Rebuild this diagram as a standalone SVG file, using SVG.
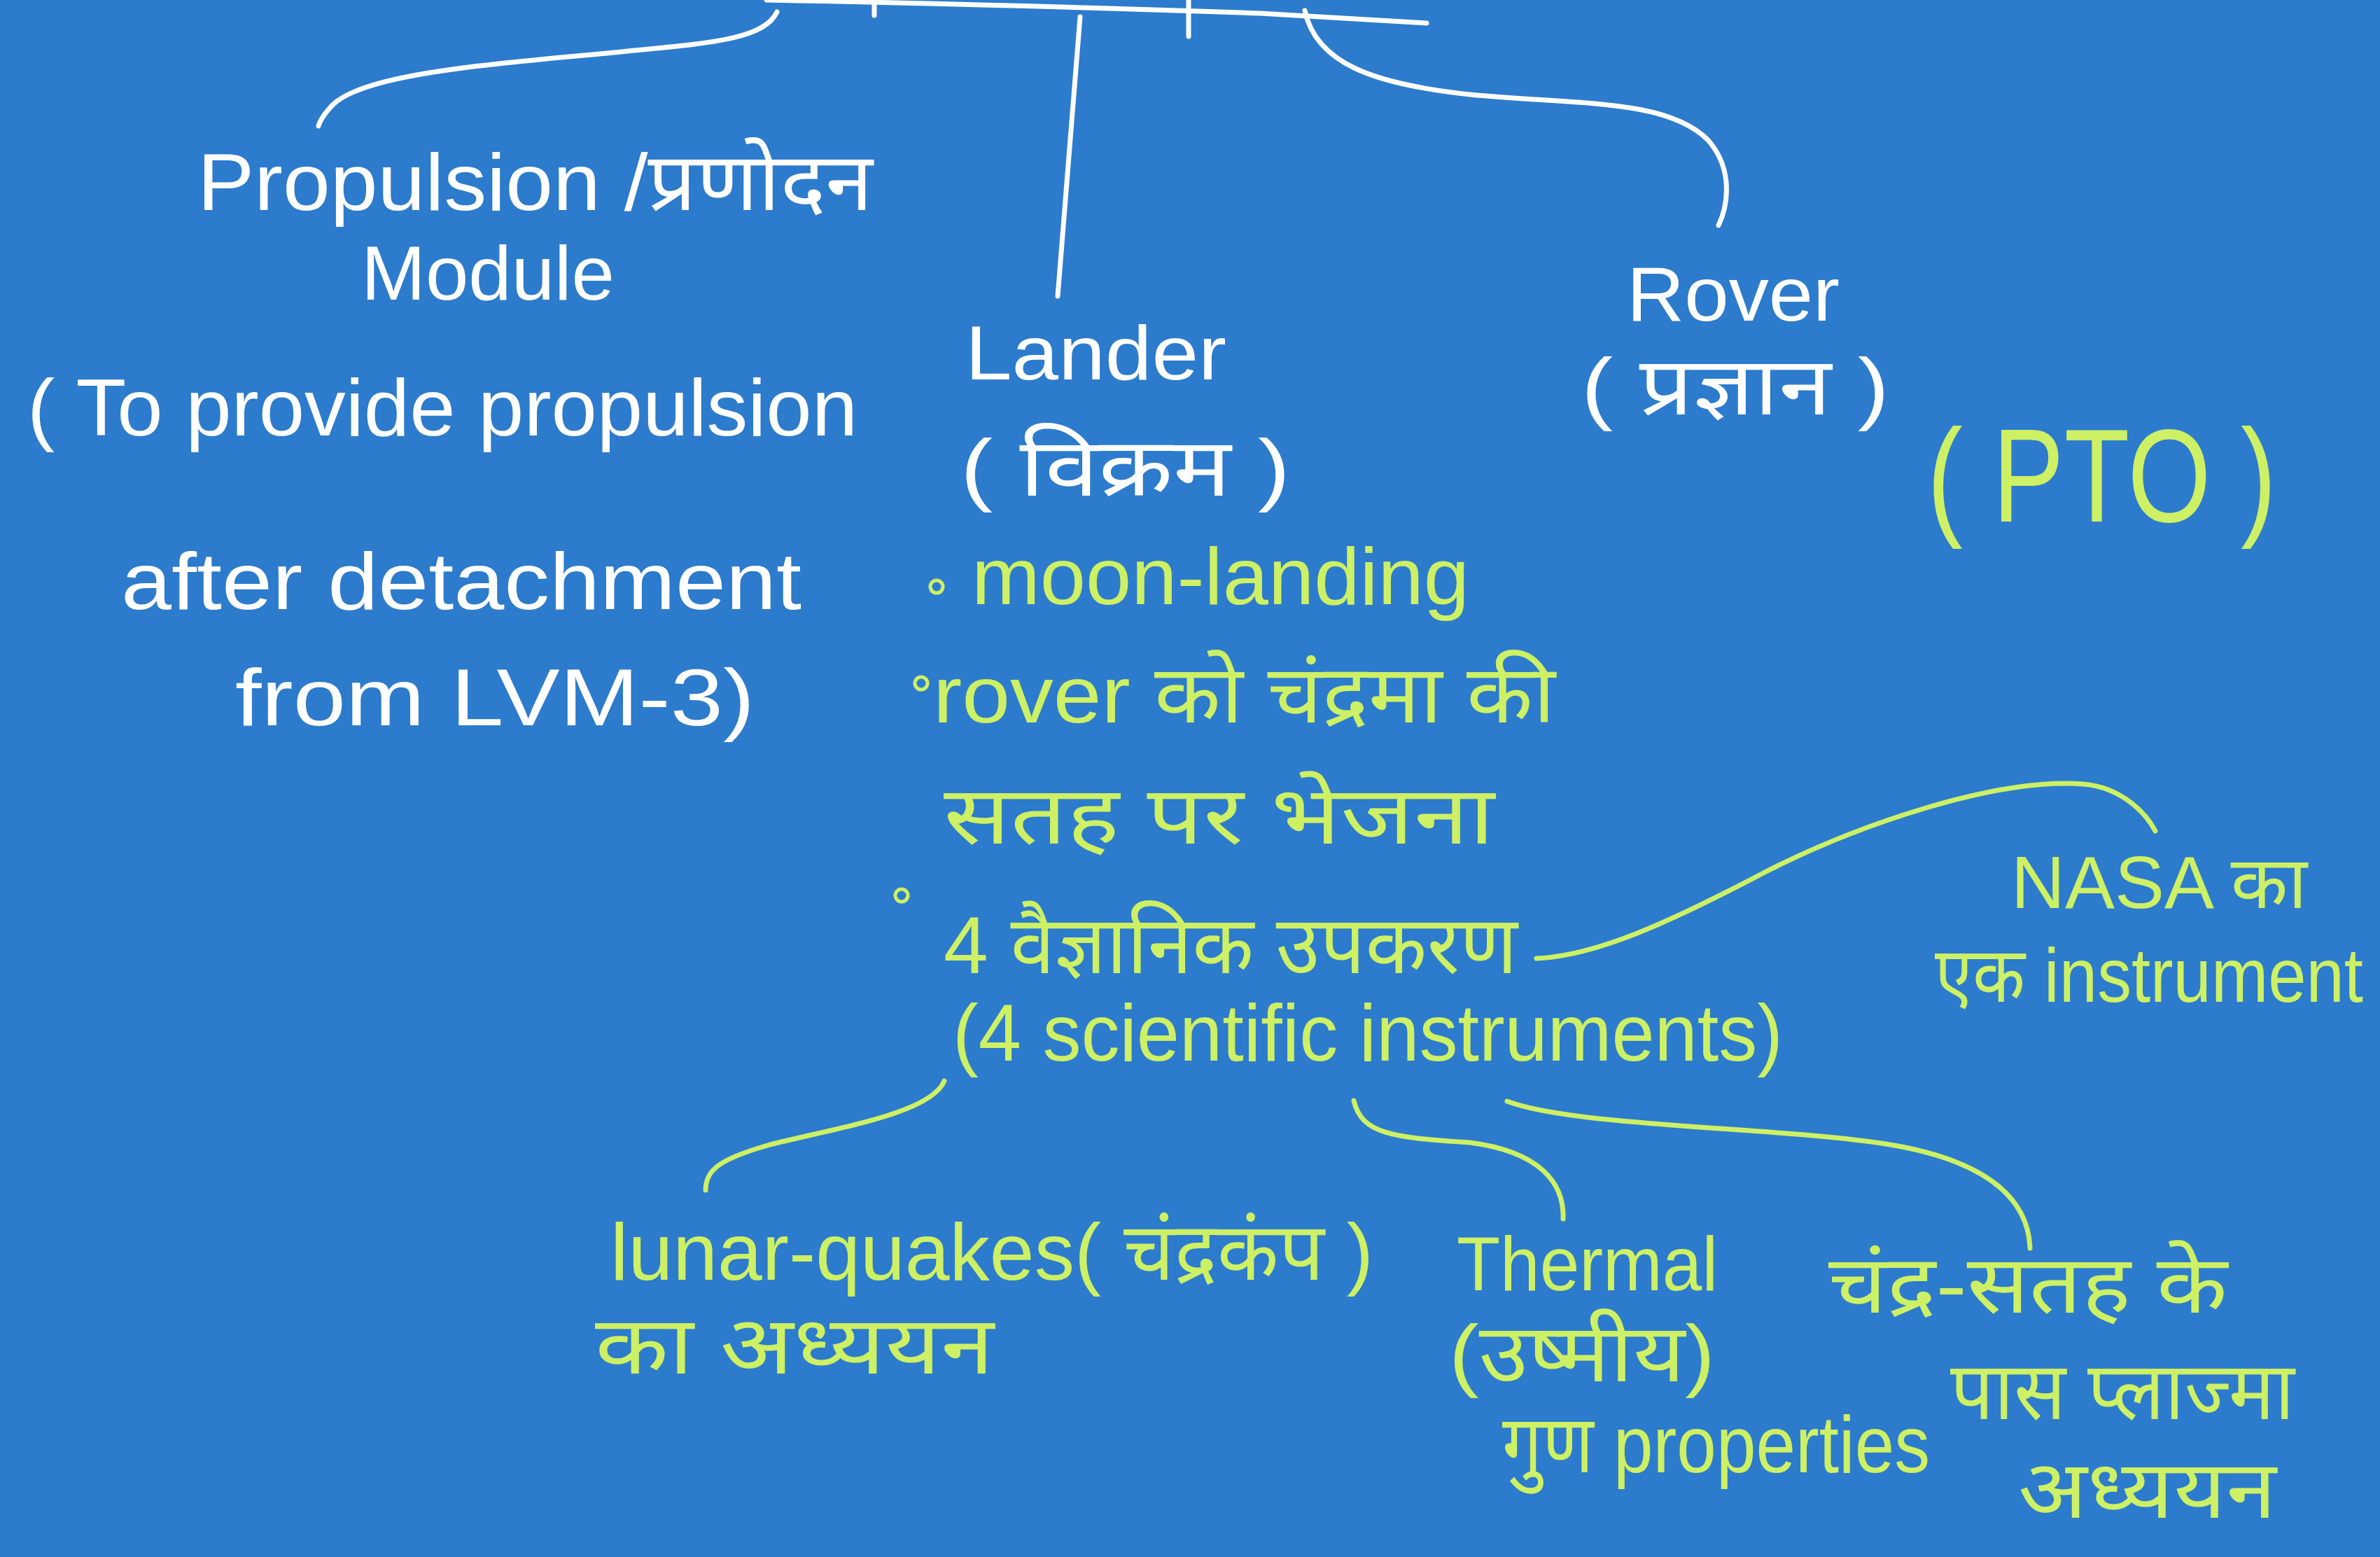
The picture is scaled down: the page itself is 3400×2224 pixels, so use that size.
<svg xmlns="http://www.w3.org/2000/svg" width="3400" height="2224" viewBox="0 0 3400 2224">
  <style>
    .w { fill: #ffffff; font-family: "Liberation Sans", "Noto Sans", "Noto Sans Devanagari", "Lohit Devanagari", "FreeSans", sans-serif; }
    .g { fill: #cdf065; font-family: "Liberation Sans", "Noto Sans", "Noto Sans Devanagari", "Lohit Devanagari", "FreeSans", sans-serif; }
    .lw { fill: none; stroke: #ffffff; stroke-width: 7; stroke-linecap: round; stroke-linejoin: round; }
    .lg { fill: none; stroke: #cdf065; stroke-width: 7; stroke-linecap: round; stroke-linejoin: round; }
    .dot { fill: none; stroke: #cdf065; stroke-width: 5; }
  </style>
  <rect x="0" y="0" width="3400" height="2224" fill="#2c7bcc"/>

  <g id="connectors">
    <path class="lw" d="M1095,0 Q1500,8 1800,19 L2038,33" stroke-width="9"/>
    <path class="lw" d="M1249,0 L1249,22"/>
    <path class="lw" d="M1698,0 L1698,52"/>
    <path class="lw" d="M1110,17 C1090,60 1000,62 867,76 C700,92 520,105 475,150 C462,164 457,172 455,180"/>
    <path class="lw" d="M1543,24 L1511,423"/>
    <path class="lw" d="M1864,15 C1880,90 1960,120 2100,135 C2250,150 2380,140 2440,200 C2475,240 2470,290 2455,322"/>
    <path class="lg" d="M2195,1369 C2280,1365 2380,1320 2521,1246 C2650,1180 2850,1110 2977,1120 C3030,1125 3065,1160 3079,1187"/>
    <path class="lg" d="M1349,1544 C1330,1590 1200,1610 1100,1635 C1030,1655 1008,1670 1008,1700"/>
    <path class="lg" d="M1934,1572 C1945,1620 1990,1625 2100,1632 C2200,1645 2235,1690 2233,1741"/>
    <path class="lg" d="M2153,1573 C2250,1610 2550,1610 2700,1635 C2850,1660 2898,1720 2900,1783"/>
  </g>

  <g id="node-propulsion">
    <text class="w" x="282" y="300" font-size="115" textLength="965" lengthAdjust="spacingAndGlyphs">Propulsion /प्रणोदन</text>
    <text class="w" x="516" y="428" font-size="110" textLength="362" lengthAdjust="spacingAndGlyphs">Module</text>
    <text class="w" x="39" y="622" font-size="115" textLength="1186" lengthAdjust="spacingAndGlyphs">( To provide propulsion</text>
    <text class="w" x="173" y="870" font-size="115" textLength="972" lengthAdjust="spacingAndGlyphs">after detachment</text>
    <text class="w" x="336" y="1036" font-size="115" textLength="742" lengthAdjust="spacingAndGlyphs">from LVM-3)</text>
  </g>

  <g id="node-lander">
    <text class="w" x="1379" y="542" font-size="110" textLength="373" lengthAdjust="spacingAndGlyphs">Lander</text>
    <text class="w" x="1372" y="708" font-size="115" textLength="471" lengthAdjust="spacingAndGlyphs">( विक्रम )</text>
  </g>

  <g id="node-rover">
    <text class="w" x="2324" y="458" font-size="110" textLength="304" lengthAdjust="spacingAndGlyphs">Rover</text>
    <text class="w" x="2259" y="592" font-size="115" textLength="440" lengthAdjust="spacingAndGlyphs">( प्रज्ञान )</text>
  </g>

  <g id="node-pto">
    <text class="g" x="2753" y="745" font-size="190" textLength="499" lengthAdjust="spacingAndGlyphs">( PTO )</text>
  </g>

  <g id="node-lander-points">
    <circle class="dot" cx="1338" cy="838" r="9"/>
    <text class="g" x="1388" y="863" font-size="115" textLength="711" lengthAdjust="spacingAndGlyphs">moon-landing</text>
    <circle class="dot" cx="1316" cy="976" r="9"/>
    <text class="g" x="1333" y="1032" font-size="115" textLength="889" lengthAdjust="spacingAndGlyphs">rover को चंद्रमा की</text>
    <text class="g" x="1348" y="1205" font-size="115" textLength="787" lengthAdjust="spacingAndGlyphs">सतह पर भेजना</text>
    <circle class="dot" cx="1288" cy="1279" r="9"/>
    <text class="g" x="1348" y="1390" font-size="115" textLength="820" lengthAdjust="spacingAndGlyphs">4 वैज्ञानिक उपकरण</text>
    <text class="g" x="1361" y="1515" font-size="115" textLength="1186" lengthAdjust="spacingAndGlyphs">(4 scientific instruments)</text>
  </g>

  <g id="node-nasa">
    <text class="g" x="2873" y="1297" font-size="105" textLength="423" lengthAdjust="spacingAndGlyphs">NASA का</text>
    <text class="g" x="2764" y="1431" font-size="110" textLength="612" lengthAdjust="spacingAndGlyphs">एक instrument</text>
  </g>

  <g id="node-lunar">
    <text class="g" x="872" y="1828" font-size="115" textLength="1090" lengthAdjust="spacingAndGlyphs">lunar-quakes( चंद्रकंप )</text>
    <text class="g" x="850" y="1962" font-size="115" textLength="570" lengthAdjust="spacingAndGlyphs">का अध्ययन</text>
  </g>

  <g id="node-thermal">
    <text class="g" x="2081" y="1843" font-size="110" textLength="373" lengthAdjust="spacingAndGlyphs">Thermal</text>
    <text class="g" x="2070" y="1973" font-size="115" textLength="380" lengthAdjust="spacingAndGlyphs">(उष्मीय)</text>
    <text class="g" x="2146" y="2103" font-size="115" textLength="611" lengthAdjust="spacingAndGlyphs">गुण properties</text>
  </g>

  <g id="node-plasma">
    <text class="g" x="2612" y="1875" font-size="115" textLength="570" lengthAdjust="spacingAndGlyphs">चंद्र-सतह के</text>
    <text class="g" x="2786" y="2027" font-size="115" textLength="492" lengthAdjust="spacingAndGlyphs">पास प्लाज्मा</text>
    <text class="g" x="2883" y="2168" font-size="115" textLength="369" lengthAdjust="spacingAndGlyphs">अध्ययन</text>
  </g>
</svg>
